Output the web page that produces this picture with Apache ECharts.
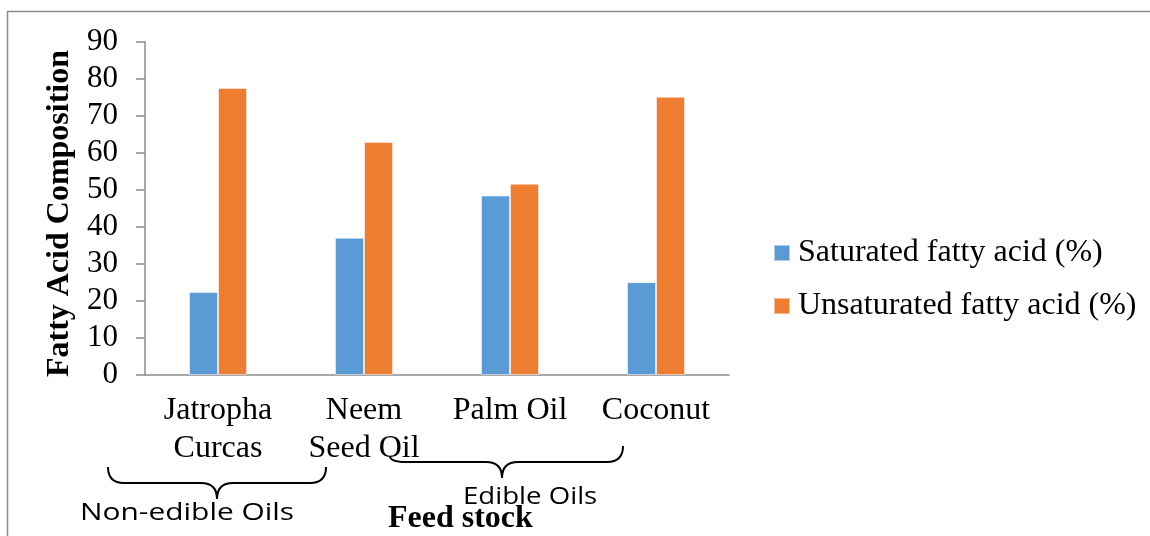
<!DOCTYPE html>
<html>
<head>
<meta charset="utf-8">
<script src="https://cdn.jsdelivr.net/npm/echarts@6/dist/echarts.min.js"></script>
<style>
html,body{margin:0;padding:0;background:#fff;}
#chart{width:1150px;height:536px;}
</style>
</head>
<body>
<div id="chart"></div>
<script>
const categories = ['Jatropha\nCurcas', 'Neem\nSeed Oil', 'Palm Oil', 'Coconut'];
const seriesNames = ['Saturated fatty acid (%)', 'Unsaturated fatty acid (%)'];
const saturated = [22.4, 37.1, 48.5, 25.1];
const unsaturated = [77.6, 63.0, 51.7, 75.2];
const yTicks = { min: 0, max: 90, interval: 10 };

const serif = '"Liberation Serif", "Times New Roman", serif';
const chart = echarts.init(document.getElementById('chart'), null, { renderer: 'canvas' });

const braceStyle = { stroke: '#000', lineWidth: 2, fill: null };
function bez(x1, y1, cx, cy, x2, y2) {
  return { type: 'bezierCurve', silent: true, shape: { x1: x1, y1: y1, cpx1: cx, cpy1: cy, x2: x2, y2: y2 }, style: braceStyle };
}
function seg(x1, y1, x2, y2) {
  return { type: 'line', silent: true, shape: { x1: x1, y1: y1, x2: x2, y2: y2 }, style: braceStyle };
}
function brace(xl, yl, xr, yr, yh, xt, yt, r) {
  return [
    bez(xl, yl, xl, yh, xl + r, yh),
    seg(xl + r, yh, xt - r, yh),
    bez(xt - r, yh, xt, yh, xt, yt),
    bez(xt, yt, xt, yh, xt + r, yh),
    seg(xt + r, yh, xr - r, yh),
    bez(xr - r, yh, xr, yh, xr, yr)
  ];
}

const graphics = [
  {
    type: 'polyline',
    shape: { points: [[7.5, 536], [7.5, 11.5], [1150, 11.5]] },
    style: { stroke: '#8c8c8c', lineWidth: 1.5, fill: null },
    silent: true
  }
].concat(
  brace(108, 467, 326, 467, 483, 217, 499, 16),
  brace(390, 456, 623, 446, 462, 502, 478, 16),
  [
    {
      type: 'text', x: 80, y: 513, scaleX: 1.3, silent: true,
      style: { text: 'Non-edible Oils', font: '23px "Open Sans", sans-serif', fill: '#000', verticalAlign: 'middle' }
    },
    {
      type: 'text', x: 463, y: 497, scaleX: 1.2, silent: true,
      style: { text: 'Edible Oils', font: '23px "Open Sans", sans-serif', fill: '#000', verticalAlign: 'middle' }
    },
    {
      type: 'text', x: 388, y: 519, silent: true,
      style: { text: 'Feed stock', font: 'bold 32px "Liberation Serif", serif', fill: '#000', verticalAlign: 'middle' }
    }
  ]
);

chart.setOption({
  backgroundColor: '#ffffff',
  animation: false,
  grid: { left: 145, right: 421, top: 42, bottom: 161, containLabel: false },
  legend: {
    orient: 'vertical',
    left: 773,
    top: 237,
    padding: 0,
    itemWidth: 16,
    itemHeight: 16,
    itemGap: 21,
    icon: 'rect',
    data: seriesNames,
    textStyle: { fontFamily: serif, fontSize: 32, color: '#000', lineHeight: 30, padding: [0, 0, 0, 3] }
  },
  xAxis: {
    type: 'category',
    data: categories,
    axisLine: { show: true, lineStyle: { color: '#8c8c8c', width: 1.5 } },
    axisTick: { show: false },
    axisLabel: { fontFamily: serif, fontSize: 32, color: '#000', lineHeight: 38, margin: 17, interval: 0 },
    splitLine: { show: false }
  },
  yAxis: {
    type: 'value',
    min: yTicks.min,
    max: yTicks.max,
    interval: yTicks.interval,
    name: 'Fatty Acid Composition',
    nameLocation: 'middle',
    nameRotate: 90,
    nameGap: 69,
    nameTextStyle: { fontFamily: serif, fontSize: 32, fontWeight: 'bold', color: '#000', padding: [0, 10, 0, 0] },
    axisLine: { show: true, lineStyle: { color: '#8c8c8c', width: 1.5 } },
    axisTick: { show: true, length: 9, lineStyle: { color: '#8c8c8c', width: 1.5 } },
    axisLabel: { fontFamily: serif, fontSize: 31, color: '#000', margin: 27 },
    splitLine: { show: false }
  },
  series: [
    {
      name: seriesNames[0], type: 'bar', data: saturated, barWidth: 29, barGap: '0%',
      itemStyle: { color: '#5B9BD5', borderColor: 'rgba(255,255,255,0.5)', borderWidth: 1 }
    },
    {
      name: seriesNames[1], type: 'bar', data: unsaturated, barWidth: 29, barGap: '0%',
      itemStyle: { color: '#ED7D31', borderColor: 'rgba(255,255,255,0.5)', borderWidth: 1 }
    }
  ],
  graphic: graphics
});
</script>
</body>
</html>
